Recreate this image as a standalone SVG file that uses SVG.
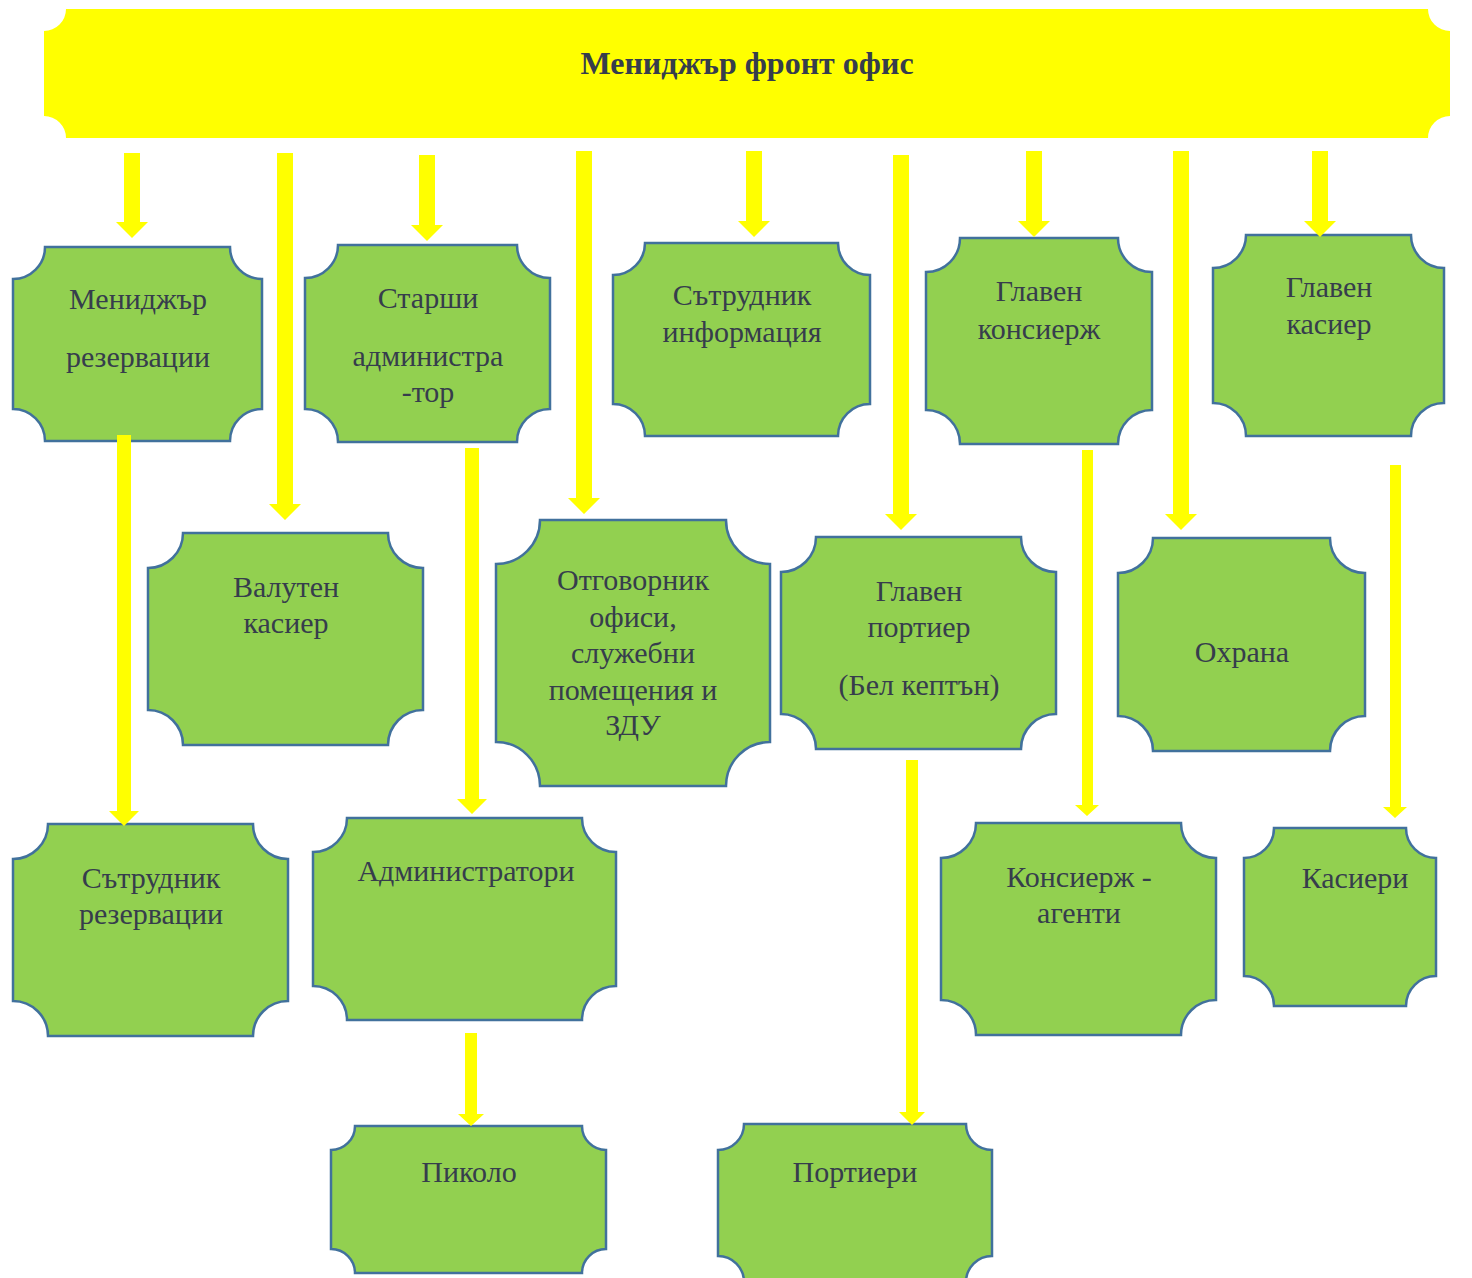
<svg xmlns="http://www.w3.org/2000/svg" width="1472" height="1278" viewBox="0 0 1472 1278">
<style>
.node{fill:#92D050;stroke:#41719C;stroke-width:2.5}
.t{font-family:"Liberation Serif","Times New Roman",serif;font-size:30px;fill:#363D4C;text-anchor:middle}
.title{font-family:"Liberation Serif","Times New Roman",serif;font-size:32px;font-weight:bold;fill:#363D4C;text-anchor:middle}
.arr{fill:#FFFF00}
</style>
<rect width="1472" height="1278" fill="#fff"/>
<g id="top">
<path d="M66,9 H1428 A22,22 0 0 0 1450,31 V116 A22,22 0 0 0 1428,138 H66 A22,22 0 0 0 44,116 V31 A22,22 0 0 0 66,9 Z" fill="#FFFF00"/>
<text class="title" x="747" y="74">Мениджър фронт офис</text>
</g>
<g id="n1"><path class="node" d="M45,247 H230 A32,32 0 0 0 262,279 V409 A32,32 0 0 0 230,441 H45 A32,32 0 0 0 13,409 V279 A32,32 0 0 0 45,247 Z"/>
<text class="t" x="138" y="309">Мениджър</text><text class="t" x="138" y="367">резервации</text></g>
<g id="n2"><path class="node" d="M338,245 H517 A33,33 0 0 0 550,278 V409 A33,33 0 0 0 517,442 H338 A33,33 0 0 0 305,409 V278 A33,33 0 0 0 338,245 Z"/>
<text class="t" x="428" y="308">Старши</text><text class="t" x="428" y="366">администра</text><text class="t" x="428" y="402">-тор</text></g>
<g id="n3"><path class="node" d="M645,243 H838 A32,32 0 0 0 870,275 V404 A32,32 0 0 0 838,436 H645 A32,32 0 0 0 613,404 V275 A32,32 0 0 0 645,243 Z"/>
<text class="t" x="742" y="305">Сътрудник</text><text class="t" x="742" y="342">информация</text></g>
<g id="n4"><path class="node" d="M960,238 H1118 A34,34 0 0 0 1152,272 V410 A34,34 0 0 0 1118,444 H960 A34,34 0 0 0 926,410 V272 A34,34 0 0 0 960,238 Z"/>
<text class="t" x="1039" y="301">Главен</text><text class="t" x="1039" y="339">консиерж</text></g>
<g id="n5"><path class="node" d="M1246,235 H1411 A33,33 0 0 0 1444,268 V403 A33,33 0 0 0 1411,436 H1246 A33,33 0 0 0 1213,403 V268 A33,33 0 0 0 1246,235 Z"/>
<text class="t" x="1329" y="297">Главен</text><text class="t" x="1329" y="334">касиер</text></g>
<g id="n6"><path class="node" d="M183,533 H388 A35,35 0 0 0 423,568 V710 A35,35 0 0 0 388,745 H183 A35,35 0 0 0 148,710 V568 A35,35 0 0 0 183,533 Z"/>
<text class="t" x="286" y="597">Валутен</text><text class="t" x="286" y="633">касиер</text></g>
<g id="n7"><path class="node" d="M540,520 H726 A44,44 0 0 0 770,564 V742 A44,44 0 0 0 726,786 H540 A44,44 0 0 0 496,742 V564 A44,44 0 0 0 540,520 Z"/>
<text class="t" x="633" y="590">Отговорник</text><text class="t" x="633" y="627">офиси,</text><text class="t" x="633" y="663">служебни</text><text class="t" x="633" y="700">помещения и</text><text class="t" x="633" y="735">ЗДУ</text></g>
<g id="n8"><path class="node" d="M816,537 H1021 A35,35 0 0 0 1056,572 V714 A35,35 0 0 0 1021,749 H816 A35,35 0 0 0 781,714 V572 A35,35 0 0 0 816,537 Z"/>
<text class="t" x="919" y="601">Главен</text><text class="t" x="919" y="637">портиер</text><text class="t" x="919" y="695">(Бел кептън)</text></g>
<g id="n9"><path class="node" d="M1153,538 H1330 A35,35 0 0 0 1365,573 V716 A35,35 0 0 0 1330,751 H1153 A35,35 0 0 0 1118,716 V573 A35,35 0 0 0 1153,538 Z"/>
<text class="t" x="1242" y="662">Охрана</text></g>
<g id="n10"><path class="node" d="M48,824 H253 A35,35 0 0 0 288,859 V1001 A35,35 0 0 0 253,1036 H48 A35,35 0 0 0 13,1001 V859 A35,35 0 0 0 48,824 Z"/>
<text class="t" x="151" y="888">Сътрудник</text><text class="t" x="151" y="924">резервации</text></g>
<g id="n11"><path class="node" d="M347,818 H582 A34,34 0 0 0 616,852 V986 A34,34 0 0 0 582,1020 H347 A34,34 0 0 0 313,986 V852 A34,34 0 0 0 347,818 Z"/>
<text class="t" x="466" y="881">Администратори</text></g>
<g id="n12"><path class="node" d="M976,823 H1181 A35,35 0 0 0 1216,858 V1000 A35,35 0 0 0 1181,1035 H976 A35,35 0 0 0 941,1000 V858 A35,35 0 0 0 976,823 Z"/>
<text class="t" x="1079" y="887">Консиерж -</text><text class="t" x="1079" y="923">агенти</text></g>
<g id="n13"><path class="node" d="M1274,828 H1406 A30,30 0 0 0 1436,858 V976 A30,30 0 0 0 1406,1006 H1274 A30,30 0 0 0 1244,976 V858 A30,30 0 0 0 1274,828 Z"/>
<text class="t" x="1355" y="888">Касиери</text></g>
<g id="n14"><path class="node" d="M355,1126 H582 A24,24 0 0 0 606,1150 V1249 A24,24 0 0 0 582,1273 H355 A24,24 0 0 0 331,1249 V1150 A24,24 0 0 0 355,1126 Z"/>
<text class="t" x="469" y="1182">Пиколо</text></g>
<g id="n15"><path class="node" d="M744,1124 H966 A26,26 0 0 0 992,1150 V1256 A26,26 0 0 0 966,1282 H744 A26,26 0 0 0 718,1256 V1150 A26,26 0 0 0 744,1124 Z"/>
<text class="t" x="855" y="1182">Портиери</text></g>
<g id="connectors" class="arr">
<polygon points="124,153 140,153 140,222 148,222 132,238 116,222 124,222"/>
<polygon points="277,153 293,153 293,504 301,504 285,520 269,504 277,504"/>
<polygon points="419,155 435,155 435,225 443,225 427,241 411,225 419,225"/>
<polygon points="576,151 592,151 592,498 600,498 584,514 568,498 576,498"/>
<polygon points="746,151 762,151 762,221 770,221 754,237 738,221 746,221"/>
<polygon points="893,155 909,155 909,514 917,514 901,530 885,514 893,514"/>
<polygon points="1026,151 1042,151 1042,221 1050,221 1034,237 1018,221 1026,221"/>
<polygon points="1173,151 1189,151 1189,514 1197,514 1181,530 1165,514 1173,514"/>
<polygon points="1312,151 1328,151 1328,221 1336,221 1320,237 1304,221 1312,221"/>
<polygon points="117,435 131,435 131,811 139,811 124,826 109,811 117,811"/>
<polygon points="465,448 479,448 479,799 487,799 472,814 457,799 465,799"/>
<polygon points="465,1033 477,1033 477,1114 484,1114 471,1126 458,1114 465,1114"/>
<polygon points="906,760 918,760 918,1112 925,1112 912,1125 899,1112 906,1112"/>
<polygon points="1082,450 1093,450 1093,805 1099,805 1087,816 1075,805 1082,805"/>
<polygon points="1390,465 1401,465 1401,807 1407,807 1395,818 1383,807 1390,807"/>
</g>
</svg>
